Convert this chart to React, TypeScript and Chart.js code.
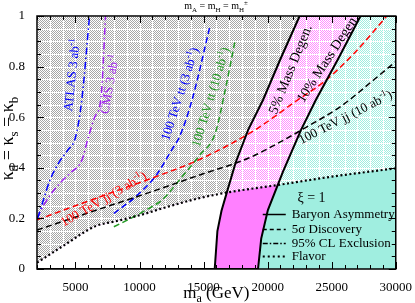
import React, { useEffect, useRef } from 'react';
import { Chart, registerables } from 'chart.js';

Chart.register(...registerables);

// ---------- axes ----------
const X_MIN = 2000;
const X_MAX = 30000;
const Y_MIN = 0;
const Y_MAX = 1;
const X_TICK_STEP = 1000;
const X_LABEL_STEP = 5000;
const Y_TICK_STEP = 0.05;
const Y_LABEL_STEP = 0.2;

// ---------- data (m_a in GeV, kappa) ----------
// Flavor constraint (dotted)
const flavorX = [2000, 4000, 6600, 8000, 10200, 12000, 14600, 16800, 20800, 25000, 30000];
const flavorY = [0.025, 0.09, 0.17, 0.187, 0.215, 0.243, 0.279, 0.302, 0.332, 0.365, 0.398];

// Baryon asymmetry: 5% mass degeneracy
const degen5X = [15870, 16080, 16400, 16800, 17500, 18480, 19640, 21000, 22500];
const degen5Y = [0, 0.15, 0.23, 0.3, 0.42, 0.55, 0.668, 0.83, 1.0];

// Baryon asymmetry: 10% mass degeneracy
const degen10X = [19250, 19500, 20020, 21200, 22600, 23760, 25500, 27250];
const degen10Y = [0, 0.12, 0.233, 0.385, 0.549, 0.668, 0.83, 1.0];

// 100 TeV jj (3 ab^-1), 5 sigma
const jj3X = [2000, 5000, 8000, 10740, 14600, 18990, 22340, 24400, 26800, 29300];
const jj3Y = [0.194, 0.25, 0.305, 0.355, 0.431, 0.549, 0.668, 0.74, 0.855, 1.0];

// 100 TeV jj (10 ab^-1), 5 sigma
const jj10X = [2000, 6000, 10740, 14600, 18480, 20800, 23000, 25690, 28270, 30000];
const jj10Y = [0.154, 0.222, 0.302, 0.37, 0.4375, 0.497, 0.56, 0.642, 0.747, 0.82];

// 100 TeV tt (3 ab^-1), 5 sigma
const tt3X = [8000, 9700, 11300, 12500, 13100, 14100, 15500];
const tt3Y = [0.22, 0.286, 0.37, 0.47, 0.52, 0.668, 0.96];

// 100 TeV tt (10 ab^-1), 5 sigma
const tt10X = [8000, 9500, 10740, 11770, 13320, 14700, 15900, 16700, 17450];
const tt10Y = [0.167, 0.205, 0.24, 0.273, 0.365, 0.45, 0.535, 0.71, 0.9];

// ATLAS 3 ab^-1, 95% CL exclusion
const atlasX = [2050, 2500, 3000, 3700, 4400, 5000, 5500, 6100];
const atlasY = [0.2, 0.273, 0.35, 0.42, 0.47, 0.52, 0.67, 1.0];

// CMS 3 ab^-1, 95% CL exclusion
const cmsX = [2000, 2500, 3000, 3800, 4600, 5500, 6000, 6500, 7000, 7350];
const cmsY = [0.2, 0.25, 0.29, 0.34, 0.38, 0.43, 0.52, 0.6, 0.68, 1.0];

// ---------- styles ----------
const FONT = '"Liberation Serif", "Times New Roman", Times, "DejaVu Serif", serif';
const GREY_DOT = '#a6a6a6';
const PINK = '#ff80ff';
const PINK_DOT = '#ff8cff';
const CYAN = '#a0eee0';
const RED = '#ff0000';
const BLUE = '#0000ff';
const GREEN = '#229922';
const VIOLET = '#a020f0';
const DASH = [6, 3.5];
const DASHDOT = [7, 3, 1.5, 3];
const DOT = [2, 2.5];

type Part = { t: string; s?: 'sup' | 'sub' };

const pts = (xs: number[], ys: number[]) => xs.map((x, i) => ({ x, y: ys[i] }));
const regionPts = (xs: number[], ys: number[]) => [
  { x: X_MIN, y: Y_MIN },
  ...pts(xs, ys),
  { x: X_MAX, y: Y_MAX },
];

function makePattern(ctx: CanvasRenderingContext2D, color: string) {
  const c = document.createElement('canvas');
  c.width = 2;
  c.height = 2;
  const g = c.getContext('2d')!;
  g.fillStyle = '#ffffff';
  g.fillRect(0, 0, 2, 2);
  g.fillStyle = color;
  g.fillRect(0, 0, 1, 1);
  g.fillRect(1, 1, 1, 1);
  return ctx.createPattern(c, 'repeat')!;
}

function drawParts(
  ctx: CanvasRenderingContext2D,
  parts: Part[],
  cx: number,
  cy: number,
  deg: number,
  size: number,
  color: string,
  baseShift = 0.33
) {
  ctx.save();
  ctx.translate(cx, cy);
  ctx.rotate((deg * Math.PI) / 180);
  ctx.fillStyle = color;
  ctx.textBaseline = 'alphabetic';
  ctx.textAlign = 'left';
  const fontFor = (p: Part) => `${p.s ? Math.round(size * 0.7) : size}px ${FONT}`;
  let w = 0;
  for (const p of parts) {
    ctx.font = fontFor(p);
    w += ctx.measureText(p.t).width;
  }
  let x = -w / 2;
  const base = size * baseShift;
  for (const p of parts) {
    ctx.font = fontFor(p);
    const dy = p.s === 'sup' ? -size * 0.42 : p.s === 'sub' ? size * 0.28 : 0;
    ctx.fillText(p.t, x, base + dy);
    x += ctx.measureText(p.t).width;
  }
  ctx.restore();
}

const annotations: { parts: Part[]; x: number; y: number; rot: number; color: string; size: number }[] = [
  { parts: [{ t: 'ATLAS 3 ab' }, { t: '-1', s: 'sup' }], x: 4707, y: 0.767, rot: -84, color: BLUE, size: 13 },
  { parts: [{ t: 'CMS 3 ab' }, { t: '-1', s: 'sup' }], x: 7647, y: 0.731, rot: -80, color: VIOLET, size: 13 },
  { parts: [{ t: '100 TeV tt (3 ab' }, { t: '-1', s: 'sup' }, { t: ')' }], x: 13138, y: 0.692, rot: -72, color: BLUE, size: 13 },
  { parts: [{ t: '100 TeV tt (10 ab' }, { t: '-1', s: 'sup' }, { t: ')' }], x: 15536, y: 0.68, rot: -73, color: GREEN, size: 13 },
  { parts: [{ t: '100 TeV jj (3 ab' }, { t: '-1', s: 'sup' }, { t: ')' }], x: 7182, y: 0.277, rot: -30, color: RED, size: 13 },
  { parts: [{ t: '100 TeV jj (10 ab' }, { t: '-1', s: 'sup' }, { t: ')' }], x: 26056, y: 0.601, rot: -27, color: '#000', size: 13 },
  { parts: [{ t: '5% Mass Degen.' }], x: 21750, y: 0.79, rot: -68, color: '#000', size: 14 },
  { parts: [{ t: '10% Mass Degen.' }], x: 24664, y: 0.834, rot: -57, color: '#000', size: 14 },
  { parts: [{ t: 'ξ = 1' }], x: 23426, y: 0.285, rot: 0, color: '#000', size: 14 },
];

const legendItems = [
  { label: 'Baryon Asymmetry', dash: [] as number[], width: 1.5 },
  { label: '5σ Discovery', dash: [4, 3], width: 1.5 },
  { label: '95% CL Exclusion', dash: [5, 2, 1.5, 2], width: 1.5 },
  { label: 'Flavor', dash: [2, 3], width: 2 },
];

const GRID_AFTER_INDEX = 2;

const overlayPlugin = {
  id: 'overlay',
  afterDatasetDraw(chart: any, args: any) {
    if (args.index !== GRID_AFTER_INDEX) return;
    const { ctx, chartArea: a } = chart;
    const xs = chart.scales.x;
    const ys = chart.scales.y;
    ctx.save();
    ctx.beginPath();
    ctx.rect(a.left, a.top, a.right - a.left, a.bottom - a.top);
    ctx.clip();
    ctx.strokeStyle = '#ffffff';
    ctx.lineWidth = 1;
    ctx.beginPath();
    xs.ticks.forEach((t: any) => {
      const p = Math.round(xs.getPixelForValue(t.value)) + 0.5;
      ctx.moveTo(p, a.top);
      ctx.lineTo(p, a.bottom);
    });
    ys.ticks.forEach((t: any) => {
      const p = Math.round(ys.getPixelForValue(t.value)) + 0.5;
      ctx.moveTo(a.left, p);
      ctx.lineTo(a.right, p);
    });
    ctx.stroke();
    ctx.restore();
  },
  afterDraw(chart: any) {
    const { ctx, chartArea: a } = chart;
    const xs = chart.scales.x;
    const ys = chart.scales.y;
    ctx.save();
    ctx.strokeStyle = '#000';
    ctx.lineWidth = 1.5;
    ctx.setLineDash([]);
    ctx.strokeRect(a.left, a.top, a.right - a.left, a.bottom - a.top);
    ctx.lineWidth = 1;
    ctx.beginPath();
    xs.ticks.forEach((t: any) => {
      const major = Math.abs(t.value / X_LABEL_STEP - Math.round(t.value / X_LABEL_STEP)) < 1e-6;
      const len = major ? 7 : 4;
      const p = Math.round(xs.getPixelForValue(t.value)) + 0.5;
      ctx.moveTo(p, a.bottom);
      ctx.lineTo(p, a.bottom - len);
      ctx.moveTo(p, a.top);
      ctx.lineTo(p, a.top + len);
    });
    ys.ticks.forEach((t: any) => {
      const major = Math.abs(t.value / Y_LABEL_STEP - Math.round(t.value / Y_LABEL_STEP)) < 1e-6;
      const len = major ? 7 : 4;
      const p = Math.round(ys.getPixelForValue(t.value)) + 0.5;
      ctx.moveTo(a.left, p);
      ctx.lineTo(a.left + len, p);
      ctx.moveTo(a.right, p);
      ctx.lineTo(a.right - len, p);
    });
    ctx.stroke();
    ctx.restore();

    annotations.forEach((an) => {
      drawParts(ctx, an.parts, xs.getPixelForValue(an.x), ys.getPixelForValue(an.y), an.rot, an.size, an.color);
    });

    ctx.save();
    const lx0 = a.right - 133;
    const lx1 = a.right - 110;
    const tx = a.right - 104;
    const rows = [a.bottom - 55, a.bottom - 40, a.bottom - 26, a.bottom - 13];
    legendItems.forEach((it, i) => {
      const yy = rows[i];
      ctx.strokeStyle = '#000';
      ctx.lineWidth = it.width;
      ctx.setLineDash(it.dash);
      ctx.beginPath();
      ctx.moveTo(lx0, yy + 0.5);
      ctx.lineTo(lx1, yy + 0.5);
      ctx.stroke();
      ctx.setLineDash([]);
      ctx.fillStyle = '#000';
      ctx.font = `13px ${FONT}`;
      ctx.textBaseline = 'alphabetic';
      ctx.textAlign = 'left';
      ctx.fillText(it.label, tx, yy + 4);
    });
    ctx.restore();

    const cxMid = (a.left + a.right) / 2;
    drawParts(ctx, [{ t: 'm' }, { t: 'a', s: 'sub' }, { t: ' (GeV)' }], cxMid, a.bottom + 23, 0, 17, '#000');
    drawParts(
      ctx,
      [{ t: 'κ' }, { t: 'd', s: 'sub' }, { t: ' = κ' }, { t: 's', s: 'sub' }, { t: ' = κ' }, { t: 'b', s: 'sub' }],
      8,
      (a.top + a.bottom) / 2 - 4,
      -90,
      18,
      '#000',
      0.25
    );
    drawParts(
      ctx,
      [{ t: 'm' }, { t: 'A', s: 'sub' }, { t: ' = m' }, { t: 'H', s: 'sub' }, { t: ' = m' }, { t: 'H', s: 'sub' }, { t: '±', s: 'sup' }],
      216,
      6,
      0,
      10,
      '#000'
    );
  },
};

export default function App() {
  const ref = useRef<HTMLCanvasElement>(null);

  useEffect(() => {
    let chart: any = null;
    let cancelled = false;

    const build = () => {
      if (cancelled || !ref.current) return;
      const canvas = ref.current;
      const ctx = canvas.getContext('2d')!;
      const greyPat = makePattern(ctx, GREY_DOT);
      const pinkPat = makePattern(ctx, PINK_DOT);
      const cyanPat = makePattern(ctx, CYAN);

      const flavorPts = pts(flavorX, flavorY);
      const region5 = regionPts(degen5X, degen5Y);
      const region10 = regionPts(degen10X, degen10Y);

      const fillDs = (data: any, fill: any, bg: any, order: number, smooth: boolean) => ({
        data,
        fill,
        backgroundColor: bg,
        borderWidth: 0,
        borderColor: 'rgba(0,0,0,0)',
        pointRadius: 0,
        order,
        tension: 0,
        cubicInterpolationMode: smooth ? 'monotone' : 'default',
      });

      const lineDs = (data: any, color: string, dash: number[], width: number, order: number, smooth = true) => ({
        data,
        fill: false,
        borderColor: color,
        borderDash: dash,
        borderWidth: width,
        pointRadius: 0,
        order,
        tension: 0,
        cubicInterpolationMode: smooth ? 'monotone' : 'default',
      });

      chart = new Chart(ctx, {
        type: 'line',
        data: {
          datasets: [
            fillDs(flavorPts, 'end', greyPat, 100, true),
            fillDs(region5, 'start', pinkPat, 99, false),
            fillDs(region10, 'start', cyanPat, 98, false),
            fillDs(flavorPts, 'start', CYAN, 97, true),
            fillDs(flavorPts, { target: 2, above: PINK, below: 'rgba(0,0,0,0)' }, PINK, 96, true),
            fillDs(flavorPts, { target: 1, above: '#ffffff', below: 'rgba(0,0,0,0)' }, '#ffffff', 95, true),
            lineDs(pts(tt10X, tt10Y), GREEN, DASH, 1.5, 9),
            lineDs(pts(tt3X, tt3Y), BLUE, DASH, 1.5, 8),
            lineDs(pts(cmsX, cmsY), VIOLET, DASHDOT, 1.5, 7),
            lineDs(pts(atlasX, atlasY), BLUE, DASHDOT, 1.5, 6),
            lineDs(pts(jj10X, jj10Y), '#000', DASH, 1.5, 5),
            lineDs(pts(jj3X, jj3Y), RED, DASH, 1.5, 4),
            lineDs(flavorPts, '#000', DOT, 2.2, 3),
            lineDs(region5, '#000', [], 2, 2, false),
            lineDs(region10, '#000', [], 2, 1, false),
          ],
        },
        options: {
          responsive: false,
          animation: false,
          devicePixelRatio: 1,
          events: [],
          layout: { padding: { left: 0, top: 16, right: 16, bottom: 0 } },
          plugins: {
            legend: { display: false },
            tooltip: { enabled: false },
            title: { display: false },
          },
          scales: {
            x: {
              type: 'linear',
              min: X_MIN,
              max: X_MAX,
              grid: { display: false },
              border: { display: false },
              ticks: {
                stepSize: X_TICK_STEP,
                autoSkip: false,
                maxRotation: 0,
                minRotation: 0,
                padding: 3,
                color: '#000',
                font: { family: FONT, size: 13 },
                callback: (v: any) => {
                  const n = Math.round(Number(v));
                  return n % X_LABEL_STEP === 0 ? String(n) : '';
                },
              },
              afterFit: (s: any) => {
                s.height = 34;
              },
            },
            y: {
              type: 'linear',
              min: Y_MIN,
              max: Y_MAX,
              grid: { display: false },
              border: { display: false },
              ticks: {
                stepSize: Y_TICK_STEP,
                autoSkip: false,
                padding: 4,
                color: '#000',
                font: { family: FONT, size: 13 },
                callback: (v: any) => {
                  const r = Math.round(Number(v) * 100) / 100;
                  const k = Math.round(r / Y_LABEL_STEP);
                  if (Math.abs(r - k * Y_LABEL_STEP) > 1e-6) return '';
                  if (r === 0) return '0';
                  if (r === 1) return '1';
                  return r.toFixed(1);
                },
              },
              afterFit: (s: any) => {
                s.width = 37;
              },
            },
          },
        } as any,
        plugins: [overlayPlugin as any],
      });
    };

    const fontsApi: any = (document as any).fonts;
    if (fontsApi && fontsApi.load) {
      Promise.all([
        fontsApi.load('13px "Liberation Serif"'),
        fontsApi.load('13px "DejaVu Serif"'),
      ])
        .catch(() => null)
        .then(() => build());
    } else {
      build();
    }

    return () => {
      cancelled = true;
      if (chart) chart.destroy();
    };
  }, []);

  return (
    <div style={{ position: 'fixed', left: 0, top: 0, width: 415, height: 303, background: '#fff' }}>
      <canvas ref={ref} width={415} height={303} style={{ width: 415, height: 303, display: 'block' }} />
    </div>
  );
}
